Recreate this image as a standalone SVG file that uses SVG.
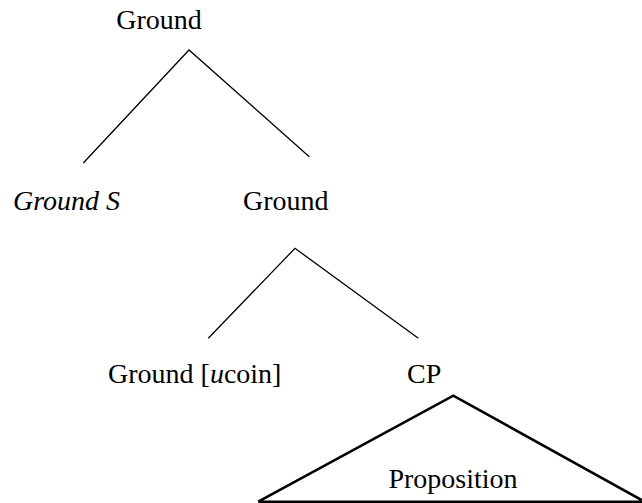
<svg xmlns="http://www.w3.org/2000/svg" width="642" height="503" viewBox="0 0 642 503">
<style>
.t{font-family:'Liberation Serif','Times New Roman','DejaVu Serif',serif;font-size:28px;fill:#000}
.e{stroke:#000;stroke-width:1.3;fill:none}
.tri{stroke:#000;stroke-width:2.6;fill:none}
</style>
<rect width="642" height="503" fill="#fff"/>
<g id="connectors">
<path class="e" d="M83.3,163 L189,50 L309.3,156.7"/>
<path class="e" d="M208.3,338.3 L295,248.3 L418.3,338.3"/>
</g>
<g id="n-root"><text class="t" font-family="Liberation Serif, serif" x="159" y="29" text-anchor="middle">Ground</text></g>
<g id="n-groundS"><text class="t" font-family="Liberation Serif, serif" x="13" y="210" font-style="italic">Ground S</text></g>
<g id="n-ground2"><text class="t" font-family="Liberation Serif, serif" x="243" y="210">Ground</text></g>
<g id="n-groundu"><text class="t" font-family="Liberation Serif, serif" x="108" y="383">Ground [<tspan font-style="italic">u</tspan>coin]</text></g>
<g id="n-cp"><text class="t" font-family="Liberation Serif, serif" x="407" y="383">CP</text></g>
<g id="n-prop">
<path class="tri" d="M258.3,501.7 L453.3,395.7 L641.7,500 M258.3,501.7 L642,501.7"/>
<text class="t" font-family="Liberation Serif, serif" x="453" y="488" text-anchor="middle">Proposition</text>
</g>
</svg>
